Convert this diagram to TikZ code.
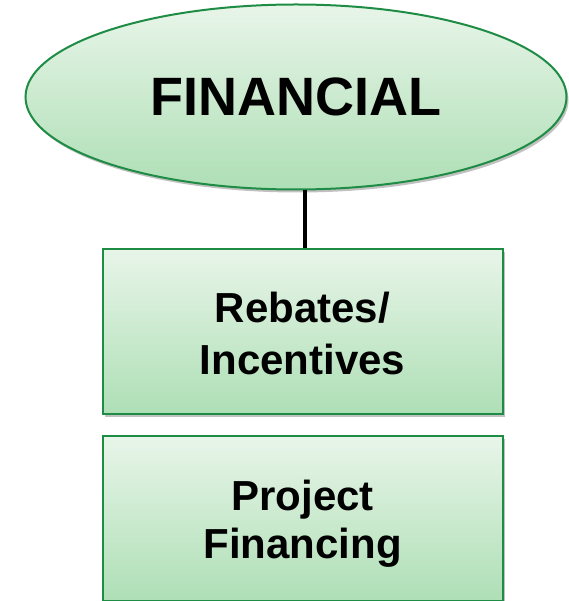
\documentclass[tikz,border=0pt]{standalone}
\usepackage{fontspec}
\setmainfont{Liberation Sans}
\usetikzlibrary{shapes.geometric,shadows}
\definecolor{topg}{HTML}{E8F5E9}
\definecolor{botg}{HTML}{AEDFB5}
\definecolor{edgeg}{HTML}{1E8C45}
\tikzset{
  fillg/.style={top color=topg,bottom color=botg,draw=edgeg,line width=2pt,
    drop shadow={shadow xshift=2pt,shadow yshift=-3pt,opacity=0.35,fill=black!70}},
  boxnode/.style={fillg,rectangle,minimum width=400pt,minimum height=165pt,inner sep=0pt},
  boxtext/.style={font=\fontsize{42}{52}\selectfont\bfseries,align=center,text=black,inner sep=0pt},
  ellnode/.style={fillg,ellipse,minimum width=541pt,minimum height=185pt,inner sep=0pt,
    font=\fontsize{54}{60}\selectfont\bfseries,text=black},
  conn/.style={draw=black,line width=4pt}
}
\begin{document}
\begin{tikzpicture}[x=1pt,y=-1pt]
\useasboundingbox (0,0) rectangle (568,601);
\node[ellnode] (fin) at (296,97) {FINANCIAL};
\node[boxnode] (reb) at (302.5,331.5) {};
\node[boxnode] (proj) at (302.5,518.5) {};
\node[boxtext,anchor=base] (rebt) at (302.5,374) {Rebates/\\Incentives};
\node[boxtext,anchor=base,font=\fontsize{42}{48}\selectfont\bfseries] (projt) at (302.5,558) {Project\\Financing};
\draw[conn] (fin.south -| 305,0) -- (reb.north -| 305,0);
\end{tikzpicture}
\end{document}
